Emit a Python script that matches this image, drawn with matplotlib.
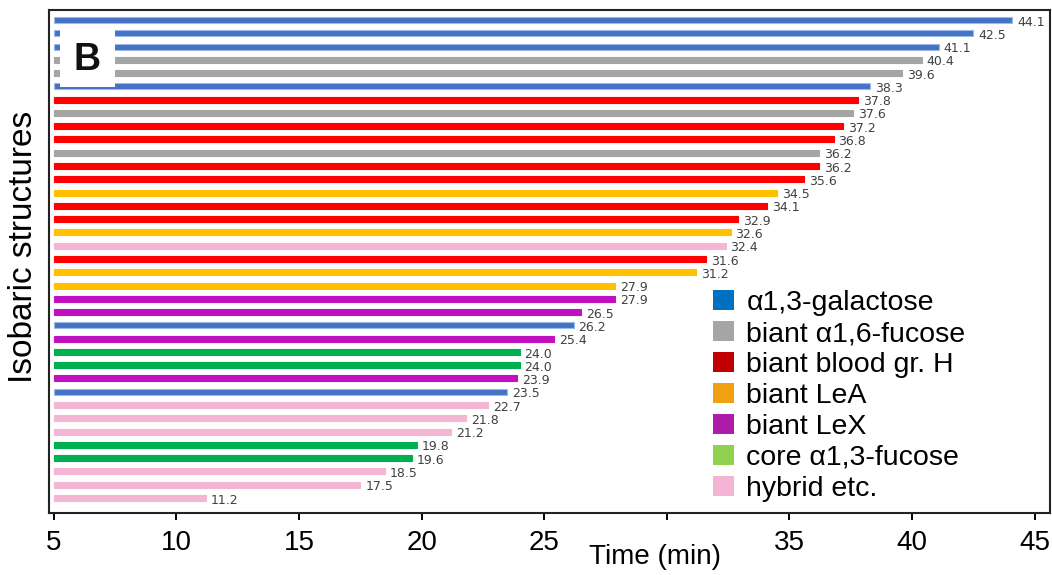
import matplotlib
matplotlib.use("Agg")
import matplotlib.pyplot as plt
from matplotlib.patches import Patch, Rectangle

plt.rcParams['font.family'] = ['Liberation Sans', 'DejaVu Sans']

# ---- data ----
values = [44.1, 42.5, 41.1, 40.4, 39.6, 38.3, 37.8, 37.6, 37.2, 36.8, 36.2, 36.2,
          35.6, 34.5, 34.1, 32.9, 32.6, 32.4, 31.6, 31.2, 27.9, 27.9, 26.5, 26.2,
          25.4, 24.0, 24.0, 23.9, 23.5, 22.7, 21.8, 21.2, 19.8, 19.6, 18.5, 17.5, 11.2]
groups = ['gal', 'gal', 'gal', 'f6', 'f6', 'gal', 'H', 'f6', 'H', 'H', 'f6', 'H',
          'H', 'LeA', 'H', 'H', 'LeA', 'hyb', 'H', 'LeA', 'LeA', 'LeX', 'LeX', 'gal',
          'LeX', 'core', 'core', 'LeX', 'gal', 'hyb', 'hyb', 'hyb', 'core', 'core',
          'hyb', 'hyb', 'hyb']
legend_keys = ['gal', 'f6', 'H', 'LeA', 'LeX', 'core', 'hyb']
legend_labels = ['α1,3-galactose', 'biant α1,6-fucose', 'biant blood gr. H',
                 'biant LeA', 'biant LeX', 'core α1,3-fucose', 'hybrid etc.']
xticks = [5, 10, 15, 20, 25, 30, 35, 40, 45]
xticklabels = ['5', '10', '15', '20', '25', '', '35', '40', '45']
x_start = 5

bar_colors = {'gal': '#4472C4', 'f6': '#A5A5A5', 'H': '#FF0000', 'LeA': '#FFC000',
              'LeX': '#C010C0', 'core': '#00B050', 'hyb': '#F4B6D4'}
legend_colors = {'gal': '#0070C0', 'f6': '#A5A5A5', 'H': '#C00000', 'LeA': '#F0A010',
                 'LeX': '#B01CAA', 'core': '#92D050', 'hyb': '#F4B4D4'}

W, H = 1052, 575
fig = plt.figure(figsize=(W / 100, H / 100), dpi=100)
ax = fig.add_axes([49 / W, 1 - 513 / H, (1050 - 49) / W, (513 - 10) / H])

ypos = list(range(len(values)))
widths = [v - x_start for v in values]
cols = [bar_colors[g] for g in groups]
edges = ['#9DB9E6' if g == 'gal' else c for g, c in zip(groups, cols)]
ax.barh(ypos, widths, left=x_start, height=0.45, color=cols, edgecolor=edges,
        linewidth=0.8)

for y, v in zip(ypos, values):
    ax.annotate(f'{v:.1f}', xy=(v, y), xytext=(3.5, -1.5), textcoords='offset points',
                ha='left', va='center', fontsize=9, color='#404040',
                family='DejaVu Sans')

ax.set_xlim(4.80, 45.63)
ax.set_ylim(len(values) - 1 + 1.13, -0.75)
ax.set_yticks([])
ax.set_xticks(xticks)
ax.set_xticklabels(xticklabels, fontsize=20)
ax.tick_params(axis='x', direction='out', length=5, width=1.4, pad=7, colors='black')
for s in ax.spines.values():
    s.set_linewidth(1.5)
    s.set_color('#222222')

ax.set_xlabel('Time (min)', fontsize=20)
ax.xaxis.set_label_coords(0.605, -0.062)

fig.text(24 / W, 1 - 247 / H, 'Isobaric structures', rotation=90, fontsize=24,
         ha='center', va='center')

# panel letter
fig.add_artist(Rectangle((60 / W, 1 - 87 / H), 55 / W, 59 / H, transform=fig.transFigure,
                         facecolor='white', edgecolor='none', zorder=5))
fig.text(87 / W, 1 - 60 / H, 'B', fontsize=27, fontweight='bold', ha='center',
         va='center', color='#111111', zorder=6)

handles = [Patch(facecolor=legend_colors[k], edgecolor='none') for k in legend_keys]
fig.legend(handles, legend_labels, loc='upper left', bbox_to_anchor=(713 / W, 1 - 290 / H),
           frameon=False, fontsize=20.5, handlelength=0.72, handleheight=0.72,
           handletextpad=0.45, labelspacing=0.17, borderpad=0, borderaxespad=0)

fig.savefig('out.png', dpi=100)
